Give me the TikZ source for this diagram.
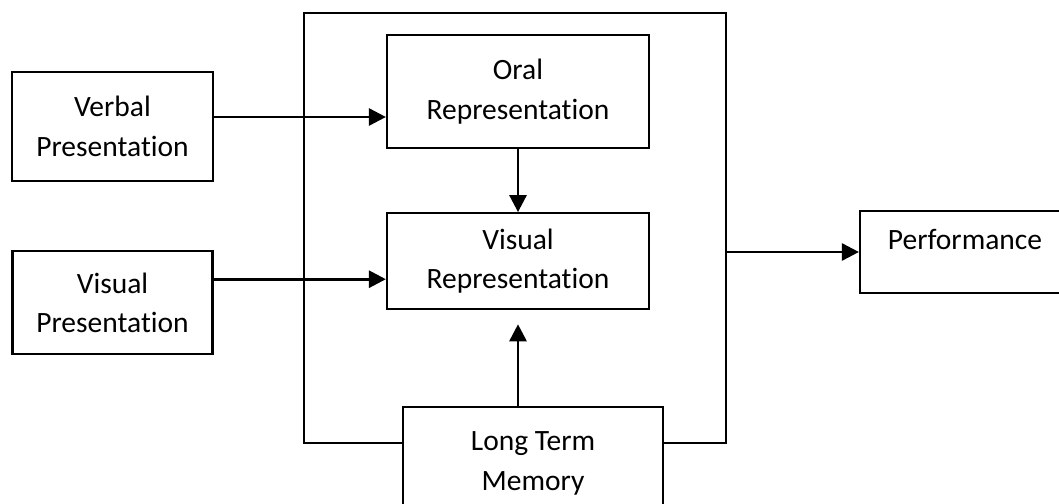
\documentclass[tikz,border=0pt]{standalone}
\usepackage{fontspec}
\setmainfont{Carlito}[Ligatures=NoCommon]
\usetikzlibrary{arrows.meta,positioning}
\tikzset {
	block/.style={rectangle, draw, line width=2.2pt, fill=white, align=center, inner sep=0pt,
					font=\fontsize{29.5}{39.5}\selectfont},
	frame/.style={rectangle, draw, line width=2.2pt, inner sep=0pt},
	flow/.style={line width=2.8pt, -{Triangle[length=17pt, width=17pt]}}
}
\begin{document}
\begin{tikzpicture}[x=1pt, y=-1pt]
	\useasboundingbox (0,0) rectangle (1059,503);
	\clip (0,0) rectangle (1059,503);
	% outer frame
	\node [frame, minimum width=422pt, minimum height=430pt] (memory) at (515,228) {};
	% inputs
	\node [block, minimum width=201pt, minimum height=109pt] (verbal) at (112.5,126.5) {Verbal\\Presentation};
	\node [block, minimum width=200pt, minimum height=103pt, below=68pt of verbal] (visualp) {Visual\\Presentation};
	% representations
	\node [block, minimum width=262pt, minimum height=113pt] (oral) at (518,91.5) {Oral\\Representation};
	\node [block, minimum width=262pt, minimum height=96pt, below=63pt of oral] (visualr) {Visual\\Representation};
	\node [block, minimum width=260pt, minimum height=113pt] (ltm) at (533,463.5) {Long Term\\Memory};
	\node [block, minimum width=210pt, minimum height=82pt, text depth=26pt] (perf) at (965,252) {Performance};
	% connectors
	\coordinate (vin) at ([yshift=9.5pt]verbal.east);
	\coordinate (pin) at ([yshift=23.5pt]visualp.east);
	\draw [flow] (vin) -- (vin -| oral.west);
	\draw [flow] (pin) -- (pin -| visualr.west);
	\draw [flow] (oral.south) -- (visualr.north);
	\draw [flow] (ltm.north -| visualr.south) -- ([yshift=-14pt]visualr.south);
	\draw [flow] (memory.east |- perf.west) -- (perf.west);
\end{tikzpicture}
\end{document}
